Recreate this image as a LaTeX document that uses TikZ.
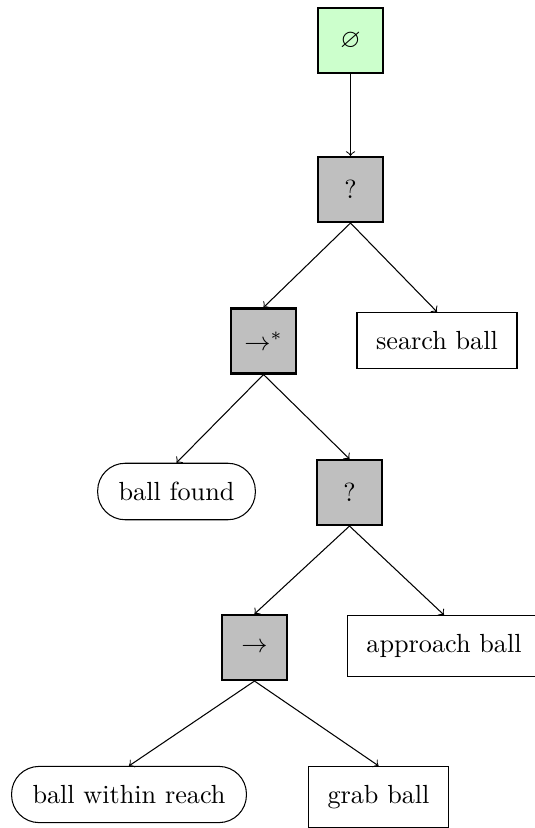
\documentclass[tikz,border=0pt]{standalone}
\usepackage{amssymb}
\begin{document}
\begin{tikzpicture}[x=0.38168pt,y=-0.38168pt,
  opbox/.style={draw,thick,fill=gray!50,minimum width=24.8pt,minimum height=24.8pt,inner sep=0pt},
  rootbox/.style={opbox,fill=green!20},
  actbox/.style={draw,thin,inner xsep=7.3pt,inner ysep=7.2pt},
  condbox/.style={draw,thin,rounded corners=10.5pt,inner xsep=8pt,inner ysep=7.2pt},
  edge/.style={->,thin}]
\useasboundingbox (0,0) rectangle (534,828);
\node[rootbox] (root) at (350.5,40.5) {$\varnothing$};
\node[opbox] (q1) at (350.5,189.5) {?};
\node[opbox] (seq1) at (263.5,341) {$\rightarrow^{*}$};
\node[actbox] (search) at (437,340.5) {search ball};
\node[condbox] (found) at (176.5,491.5) {ball found};
\node[opbox] (q2) at (349.5,492.5) {?};
\node[opbox] (seq2) at (254.5,647.5) {$\rightarrow$};
\node[actbox] (approach) at (444,646) {approach ball};
\node[condbox] (within) at (129,794.5) {ball within reach};
\node[actbox] (grab) at (378.5,797) {grab ball};
\draw[edge] (root.south) -- (q1.north);
\draw[edge] (q1.south) -- (seq1.north);
\draw[edge] (q1.south) -- (search.north);
\draw[edge] (seq1.south) -- (found.north);
\draw[edge] (seq1.south) -- (q2.north);
\draw[edge] (q2.south) -- (seq2.north);
\draw[edge] (q2.south) -- (approach.north);
\draw[edge] (seq2.south) -- (within.north);
\draw[edge] (seq2.south) -- (grab.north);
\end{tikzpicture}
\end{document}
